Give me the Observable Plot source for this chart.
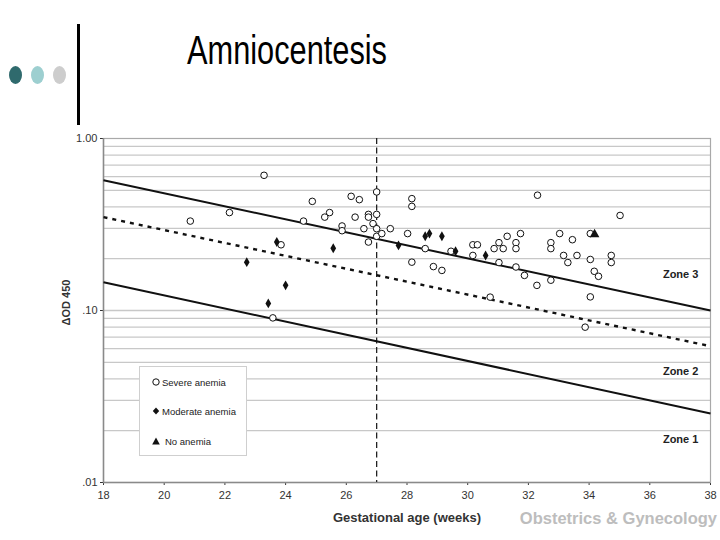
<!DOCTYPE html>
<html>
<head>
<meta charset="utf-8">
<script src="https://cdn.jsdelivr.net/npm/d3@7"></script>
<script src="https://cdn.jsdelivr.net/npm/@observablehq/plot@0.6"></script>
<style>
  html, body { margin: 0; padding: 0; background: #fff; }
  #page { position: relative; width: 720px; height: 540px; overflow: hidden; font-family: "Liberation Sans", Arial, sans-serif; }
  .abs { position: absolute; }
  #title { left: 137px; width: 300px; top: 30px; text-align: center; transform: scaleX(0.75); transform-origin: 150px 50%; font-family: "Liberation Sans", Arial, sans-serif; font-size: 41px; line-height: 41px; color: #000; white-space: nowrap; }
  .dot { width: 13px; height: 18px; border-radius: 50%; top: 66px; }
  #vbar { left: 77px; top: 24px; width: 3px; height: 101px; background: #000; }
  #chart { left: 0; top: 120px; }
  #legend { left: 139px; top: 366px; width: 106px; height: 88px; border: 1px solid #cfcfcf; background: #fff; font-size: 9.5px; color: #222; }
  .item { position: absolute; left: 11px; height: 12px; display: flex; align-items: center; white-space: nowrap; }
  .item svg { margin-right: 1px; }
  #xtitle { left: 257px; top: 510px; width: 300px; height: 16px; line-height: 16px; text-align: center; font-size: 13px; font-weight: bold; color: #333; white-space: nowrap; }
  #source { right: 3px; top: 508px; height: 20px; line-height: 20px; font-size: 16.5px; font-weight: bold; color: #bdbdbd; white-space: nowrap; }
</style>
</head>
<body>
<div id="page">
  <div class="abs dot" style="left:9px; background:#2f6a6d;"></div>
  <div class="abs dot" style="left:31px; background:#9dcfd0;"></div>
  <div class="abs dot" style="left:53px; background:#cdcdcd;"></div>
  <div class="abs" id="vbar"></div>
  <div class="abs" id="title">Amniocentesis</div>
  <div class="abs" id="chart"></div>
  <div class="abs" id="legend">
    <div class="item" style="top:9px;"><svg width="10" height="10"><circle cx="5" cy="5" r="3.2" fill="#fff" stroke="#111" stroke-width="1"/></svg>Severe anemia</div>
    <div class="item" style="top:38px;"><svg width="10" height="10"><path d="M5,1.6L8.2,5L5,8.4L1.8,5Z" fill="#111"/></svg>Moderate anemia</div>
    <div class="item" style="top:68px;"><svg width="13" height="10"><path d="M5,1.5L8.8,8.5L1.2,8.5Z" fill="#111"/></svg>No anemia</div>
  </div>
  <div class="abs" id="xtitle">Gestational age (weeks)</div>
  <div class="abs" id="source">Obstetrics &amp; Gynecology</div>
</div>
<script>
// ---- data ----
const xTicks = [18, 20, 22, 24, 26, 28, 30, 32, 34, 36, 38];
const yTicks = [0.01, 0.1, 1];
const yTickLabels = [".01", ".10", "1.00"];
const yTitle = "ΔOD 450";
const gridValues = [0.02, 0.03, 0.04, 0.05, 0.06, 0.07, 0.08, 0.09, 0.1, 0.2, 0.3, 0.4, 0.5, 0.6, 0.7, 0.8, 0.9];
const cutoffWeek = 27;

const severeX = [20.86, 22.15, 23.29, 24.59, 24.88, 25.29, 25.45, 25.86, 25.86, 26.16, 26.43, 26.29, 26.73, 26.73, 26.88, 26.58, 26.73, 27.0, 27.0, 27.0, 27.0, 23.85, 23.58, 27.17, 27.45, 28.16, 28.16, 28.02, 28.16, 28.6, 28.87, 29.15, 29.45, 30.17, 30.32, 30.17, 30.74, 30.87, 31.03, 31.17, 31.3, 31.59, 31.59, 31.74, 31.03, 31.59, 31.87, 32.28, 32.3, 35.02, 33.03, 32.74, 32.74, 33.45, 34.04, 33.16, 33.3, 33.6, 34.04, 34.73, 34.73, 34.17, 34.31, 32.74, 34.04, 33.87];
const severeY = [0.331, 0.371, 0.611, 0.331, 0.431, 0.349, 0.371, 0.31, 0.291, 0.461, 0.441, 0.349, 0.362, 0.349, 0.32, 0.299, 0.25, 0.489, 0.362, 0.299, 0.27, 0.241, 0.0906, 0.28, 0.299, 0.447, 0.403, 0.28, 0.191, 0.229, 0.18, 0.171, 0.221, 0.241, 0.241, 0.209, 0.1196, 0.229, 0.248, 0.229, 0.27, 0.248, 0.229, 0.28, 0.19, 0.179, 0.16, 0.14, 0.468, 0.357, 0.28, 0.248, 0.229, 0.258, 0.28, 0.209, 0.19, 0.209, 0.198, 0.209, 0.19, 0.169, 0.158, 0.15, 0.12, 0.08];

const moderateX = [22.72, 23.43, 23.71, 24.0, 25.57, 27.72, 28.6, 28.74, 29.15, 29.6, 30.59];
const moderateY = [0.191, 0.11, 0.25, 0.14, 0.23, 0.239, 0.27, 0.28, 0.27, 0.221, 0.209];

const noneX = [34.18];
const noneY = [0.277];

// zone boundary lines: start (18 wk) and end (38 wk) values
const boundaryNames = ["upper", "middle", "lower"];
const boundaryStart = [0.572, 0.349, 0.146];
const boundaryEnd = [0.100, 0.062, 0.0252];
const boundaryDashed = [false, true, false];

const zoneNames = ["Zone 3", "Zone 2", "Zone 1"];
const zoneLabelY = [0.162, 0.0443, 0.0177];
const zoneLabelX = 37.6;

// ---- tables ----
const severe = severeX.map((x, i) => ({x, y: severeY[i]}));
const moderate = moderateX.map((x, i) => ({x, y: moderateY[i]}));
const none = noneX.map((x, i) => ({x, y: noneY[i]}));
const boundaries = boundaryNames.map((name, i) => ({name, x1: 18, y1: boundaryStart[i], x2: 38, y2: boundaryEnd[i], dashed: boundaryDashed[i]}));
const zones = zoneNames.map((name, i) => ({name, x: zoneLabelX, y: zoneLabelY[i]}));

const plot = Plot.plot({
  width: 720,
  height: 420,
  marginTop: 18,
  marginLeft: 103,
  marginRight: 10,
  marginBottom: 58,
  style: {fontFamily: "'Liberation Sans', Arial, sans-serif", fontSize: "11px", color: "#333", background: "transparent", overflow: "visible"},
  x: {domain: [18, 38], ticks: xTicks, tickFormat: d => String(d), tickSize: 3, tickPadding: 6, label: null},
  y: {type: "log", domain: [0.01, 1], ticks: yTicks, tickFormat: d => yTickLabels[yTicks.findIndex(t => Math.abs(t - d) < 1e-9)], tickSize: 3, tickPadding: 3, label: null},
  marks: [
    Plot.ruleY(gridValues, {stroke: "#c8c8c8", strokeWidth: 1.3}),
    Plot.frame({stroke: "#a9a9a9", strokeWidth: 1.2}),
    Plot.ruleX([18], {stroke: "#8a8a8a", strokeWidth: 1.5}),
    Plot.ruleY([0.01], {stroke: "#8a8a8a", strokeWidth: 1.5}),
    Plot.ruleX([cutoffWeek], {stroke: "#222", strokeWidth: 1.3, strokeDasharray: "6,3.5"}),
    Plot.link(boundaries.filter(d => !d.dashed), {x1: "x1", y1: "y1", x2: "x2", y2: "y2", stroke: "#111", strokeWidth: 2}),
    Plot.link(boundaries.filter(d => d.dashed), {x1: "x1", y1: "y1", x2: "x2", y2: "y2", stroke: "#111", strokeWidth: 2.4, strokeDasharray: "4,5"}),
    Plot.text(zones, {x: "x", y: "y", text: "name", textAnchor: "end", fontWeight: "bold", fontSize: 11, fill: "#222"}),
    Plot.text([yTitle], {frameAnchor: "left", text: d => d, textAnchor: "middle", lineAnchor: "middle", dx: -37, dy: -8, rotate: -90, fontWeight: "bold", fontSize: 11, fill: "#333"}),
    Plot.dot(severe, {x: "x", y: "y", r: 3.3, symbol: "circle", fill: "#fff", stroke: "#111", strokeWidth: 1}),
    Plot.dot(moderate, {x: "x", y: "y", r: 3, symbol: "diamond", fill: "#111", stroke: "none"}),
    Plot.dot(none, {x: "x", y: "y", r: 3.6, symbol: "triangle", fill: "#111", stroke: "none"})
  ]
});
document.getElementById("chart").appendChild(plot);
</script>
</body>
</html>
